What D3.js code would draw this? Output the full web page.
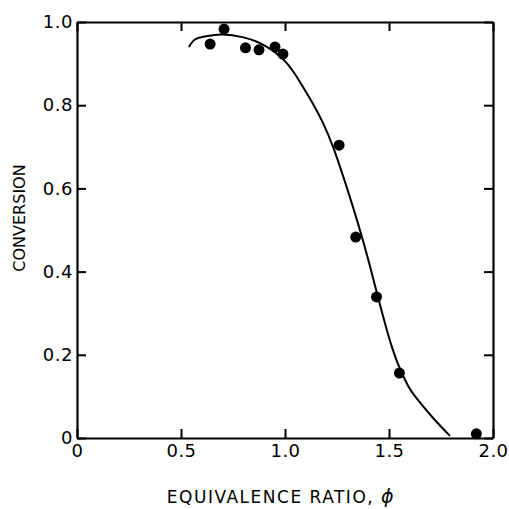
<!DOCTYPE html>
<html>
<head>
<meta charset="utf-8">
<script src="https://cdn.jsdelivr.net/npm/d3@7"></script>
<style>
  body { margin: 0; background: #fff; }
  text { font-family: "DejaVu Sans", sans-serif; fill: #000; }
</style>
</head>
<body>
<svg id="drawing_region"></svg>
<script>
// measured points (phi, conversion)
var pointPhi = [0.64, 0.707, 0.81, 0.875, 0.952, 0.99, 1.26, 1.34, 1.44, 1.55, 1.92];
var pointConv = [0.947, 0.983, 0.938, 0.933, 0.94, 0.923, 0.704, 0.483, 0.339, 0.156, 0.01];

// fitted curve
var curvePhi = [0.538, 0.567, 0.62, 0.70, 0.80, 0.90, 1.00, 1.072, 1.135, 1.183, 1.231, 1.279, 1.327, 1.370, 1.409, 1.447, 1.495, 1.52, 1.543, 1.59, 1.635, 1.712, 1.793];
var curveConv = [0.940, 0.958, 0.966, 0.970, 0.963, 0.944, 0.906, 0.856, 0.803, 0.757, 0.700, 0.630, 0.555, 0.483, 0.412, 0.339, 0.250, 0.210, 0.178, 0.127, 0.094, 0.048, 0.005];

var xTicks = [0, 0.5, 1.0, 1.5, 2.0];
var xTickLabels = ['0', '0.5', '1.0', '1.5', '2.0'];
var yTicks = [0, 0.2, 0.4, 0.6, 0.8, 1.0];
var yTickLabels = ['0', '0.2', '0.4', '0.6', '0.8', '1.0'];

var width = 509;
var height = 509;
var margin = {top: 22, right: 16, bottom: 71, left: 77};

var svg = d3.select('#drawing_region')
    .attr('width', width)
    .attr('height', height);

var chart = svg.append('g')
    .attr('transform', `translate(${margin.left}, ${margin.top})`);

const inner_width = width - margin.left - margin.right;
const inner_height = height - margin.top - margin.bottom;

const xscale = d3.scaleLinear().domain([0, 2]).range([0, inner_width]);
const yscale = d3.scaleLinear().domain([0, 1]).range([inner_height, 0]);

// ticks point inward on every side
const xaxis = d3.axisBottom(xscale).tickValues(xTicks)
    .tickFormat((d, i) => xTickLabels[i]).tickSizeInner(-9).tickSizeOuter(0).tickPadding(6);
const yaxis = d3.axisLeft(yscale).tickValues(yTicks)
    .tickFormat((d, i) => yTickLabels[i]).tickSizeInner(-9).tickSizeOuter(0).tickPadding(4);
const xaxisTop = d3.axisTop(xscale).tickValues(xTicks)
    .tickFormat('').tickSizeInner(-9).tickSizeOuter(0);
const yaxisRight = d3.axisRight(yscale).tickValues(yTicks)
    .tickFormat('').tickSizeInner(-9).tickSizeOuter(0);

function styleAxis(g) {
  g.select('.domain').attr('stroke', '#000').attr('stroke-width', 2.2);
  g.selectAll('.tick line').attr('stroke', '#000').attr('stroke-width', 2);
  g.selectAll('.tick text').attr('font-size', 18).attr('letter-spacing', 0.5)
    .attr('font-family', '"DejaVu Sans", sans-serif');
}

chart.append('g').attr('transform', `translate(0, ${inner_height})`).call(xaxis).call(styleAxis);
chart.append('g').call(yaxis).call(styleAxis);
chart.append('g').call(xaxisTop).call(styleAxis);
chart.append('g').attr('transform', `translate(${inner_width}, 0)`).call(yaxisRight).call(styleAxis);

// fitted curve
var curveData = curvePhi.map((d, i) => ({x: d, y: curveConv[i]}));
const line = d3.line()
    .x(d => xscale(d.x))
    .y(d => yscale(d.y))
    .curve(d3.curveNatural);

chart.append('path')
    .datum(curveData)
    .attr('fill', 'none')
    .attr('stroke', '#000')
    .attr('stroke-width', 2)
    .attr('d', line);

// data points
var pointData = pointPhi.map((d, i) => ({x: d, y: pointConv[i]}));
chart.selectAll('circle').data(pointData).enter()
    .append('circle')
    .attr('cx', d => xscale(d.x))
    .attr('cy', d => yscale(d.y))
    .attr('r', 5.5)
    .attr('fill', '#000');

// axis titles
var xTitle = svg.append('text')
    .attr('x', 281)
    .attr('y', 503)
    .attr('text-anchor', 'middle')
    .attr('font-size', 17)
    .attr('letter-spacing', 1.5);
xTitle.append('tspan').text('EQUIVALENCE RATIO, ');
xTitle.append('tspan').attr('font-style', 'italic').attr('font-size', 19).text('ϕ');

svg.append('text')
    .attr('transform', 'translate(25, 218) rotate(-90)')
    .attr('text-anchor', 'middle')
    .attr('font-size', 16)
    .text('CONVERSION');
</script>
</body>
</html>
